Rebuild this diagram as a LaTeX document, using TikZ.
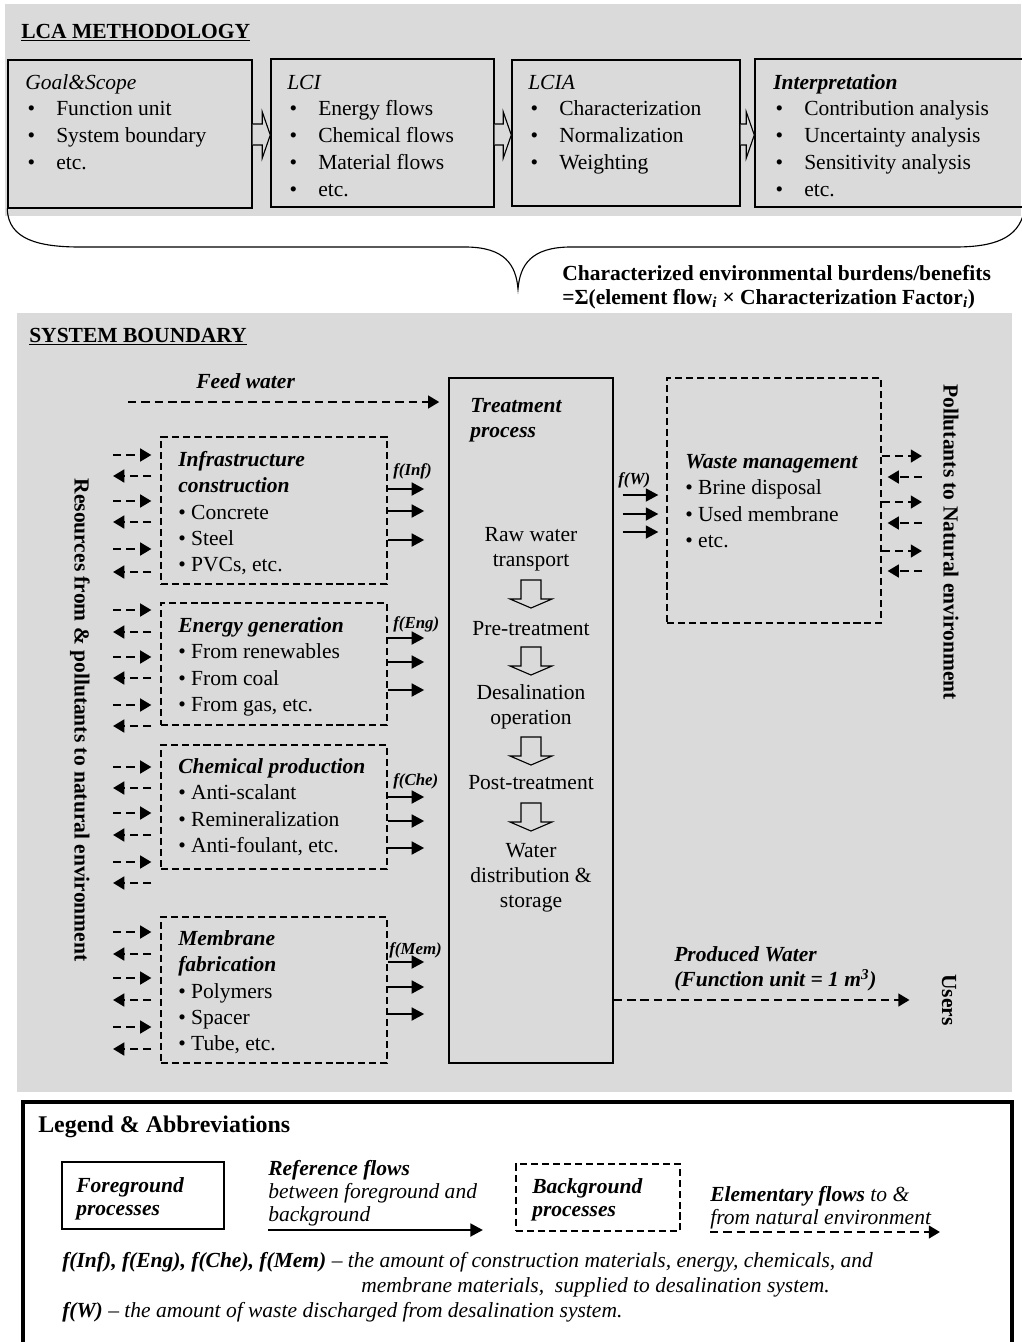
\documentclass[tikz,border=0pt]{standalone}
\usepackage{fontspec}
\setmainfont{Liberation Serif}
\usetikzlibrary{positioning,arrows.meta,fit,calc}

\definecolor{panelgray}{RGB}{218,218,218}

\newcommand{\bodyfont}{\fontsize{15.3}{19.1}\selectfont}
\newcommand{\topitem}[1]{\makebox[0.775cm][l]{\hspace{0.06cm}\textbullet}#1}

\tikzset{
  fgbox/.style={draw, line width=1pt, inner sep=0pt},
  bgbox/.style={draw, line width=0.8pt, dash pattern=on 5pt off 2.8pt, inner sep=0pt},
  lab/.style={anchor=base west, inner sep=0pt, font=\bodyfont},
  labbi/.style={lab, font=\bodyfont\bfseries\itshape},
  heading/.style={lab, font=\bodyfont\bfseries},
  toptxt/.style={anchor=north west, align=left, inner sep=0pt, font=\bodyfont},
  lowtxt/.style={anchor=north west, align=left, inner sep=0pt, font=\fontsize{15.3}{18.65}\selectfont},
  steptxt/.style={anchor=north, align=center, inner sep=0pt, font=\fontsize{15.3}{17.8}\selectfont},
  legtxt/.style={anchor=north west, align=left, inner sep=0pt, font=\fontsize{15.3}{16.5}\selectfont\itshape},
  flab/.style={anchor=base west, inner sep=0pt, font=\fontsize{12}{14}\selectfont\bfseries\itshape},
  sidelab/.style={rotate=-90, inner sep=0pt, font=\bodyfont\bfseries},
  refflow/.style={line width=2pt, -{Triangle[length=9pt,width=9pt]}},
  elemflow/.style={line width=1.8pt, dash pattern=on 6pt off 3.5pt, -{Triangle[length=8pt,width=9pt]}},
  hollow/.style={draw, line width=0.8pt, fill=panelgray},
}

\begin{document}
\begin{tikzpicture}[x=0.025cm, y=-0.025cm]
\useasboundingbox (0,0) rectangle (1021,1342);

% gray panels
\fill[panelgray] (5,4) rectangle (1021,216);
\fill[panelgray] (17,313) rectangle (1012,1092);

% LCA methodology
\node[heading] (lcatitle) at (21,38) {\underline{LCA METHODOLOGY}};
\node[fgbox, fit={(8,60) (252,208)}] (goal) {};
\node[fgbox, fit={(271,59) (494,207)}] (lci) {};
\node[fgbox, fit={(512,60) (740,206)}] (lcia) {};
\node[fgbox, fit={(755,59) (1024,207)}] (interp) {};

\node[toptxt] (goaltxt) at (25,70) {\strut\textit{Goal\&Scope}\\\topitem{Function unit}\\\topitem{System boundary}\\\topitem{etc.}};
\node[toptxt] (lcitxt) at (287,70) {\strut\textit{LCI}\\\topitem{Energy flows}\\\topitem{Chemical flows}\\\topitem{Material flows}\\\topitem{etc.}};
\node[toptxt] (lciatxt) at (528,70) {\strut\textit{LCIA}\\\topitem{Characterization}\\\topitem{Normalization}\\\topitem{Weighting}};
\node[toptxt] (interptxt) at (773,70) {\strut\textbf{\textit{Interpretation}}\\\topitem{Contribution analysis}\\\topitem{Uncertainty analysis}\\\topitem{Sensitivity analysis}\\\topitem{etc.}};

\foreach \a/\bx in {goal/lci, lci/lcia, lcia/interp}
  \draw[hollow] (\a.east |- 0,124) -- ($(\bx.west |- 0,124)+(-8,0)$) -- ++(0,-12) -- (\bx.west |- 0,135)
    -- ++(-8,23) -- ++(0,-13) -- (\a.east |- 0,145);

% brace
\draw[line width=0.8pt] (goal.south west) .. controls (8,240) and (40,247) .. (80,247) -- (465,247)
  .. controls (505,247) and (516,265) .. (518,289) .. controls (520,265) and (531,247) .. (571,247)
  -- (955,247) .. controls (995,247) and (1018,238) .. (1024,212);

\node[heading] (charline) at (562,280) {Characterized environmental burdens/benefits};
\node[heading] (sumline) at (562,304) {=Σ(element flow\textsubscript{\itshape i} × Characterization Factor\textsubscript{\itshape i})};

% system boundary
\node[heading] (systitle) at (29,342) {\underline{SYSTEM BOUNDARY}};
\node[fgbox, fit={(449,378) (613,1063)}] (treat) {};
\node[bgbox, fit={(667,378) (881,623)}] (waste) {};
\node[bgbox, fit={(161,437) (387,584)}] (infra) {};
\node[bgbox, fit={(161,603) (387,725)}] (energy) {};
\node[bgbox, fit={(161,745) (387,869)}] (chem) {};
\node[bgbox, fit={(161,917) (387,1063)}] (memb) {};

\node[steptxt, anchor=north west, align=left, font=\fontsize{15.3}{17.8}\selectfont\bfseries\itshape] (treattitle) at (470,395) {\strut Treatment\\process};
\node[steptxt] (rawtxt) at (treat.center |- 0,524) {\strut Raw water\\transport};
\node[steptxt] (pretxt) at (treat.center |- 0,618) {\strut Pre-treatment};
\node[steptxt] (desaltxt) at (treat.center |- 0,682) {\strut Desalination\\operation};
\node[steptxt] (posttxt) at (treat.center |- 0,772) {\strut Post-treatment};
\node[steptxt] (distrtxt) at (treat.center |- 0,840) {\strut Water\\distribution \&\\storage};
\foreach \t in {580,647,737,803}
  \draw[hollow] ($(treat.center |- 0,\t)+(-10,0)$) -- ++(20,0) -- ++(0,19) -- ++(11,0) -- ++(-21,9) -- ++(-21,-9) -- ++(11,0) -- cycle;

\node[lowtxt] (wastetxt) at (685,450) {\strut\textbf{\textit{Waste management}}\\\textbullet\ Brine disposal\\\textbullet\ Used membrane\\\textbullet\ etc.};
\node[lowtxt] (infratxt) at (178,448) {\strut\textbf{\textit{Infrastructure}}\\\textbf{\textit{construction}}\\\textbullet\ Concrete\\\textbullet\ Steel\\\textbullet\ PVCs, etc.};
\node[lowtxt] (energytxt) at (178,614) {\strut\textbf{\textit{Energy generation}}\\\textbullet\ From renewables\\\textbullet\ From coal\\\textbullet\ From gas, etc.};
\node[lowtxt] (chemtxt) at (178,755) {\strut\textbf{\textit{Chemical production}}\\\textbullet\ Anti-scalant\\\textbullet\ Remineralization\\\textbullet\ Anti-foulant, etc.};
\node[lowtxt] (membtxt) at (178,927) {\strut\textbf{\textit{Membrane}}\\\textbf{\textit{fabrication}}\\\textbullet\ Polymers\\\textbullet\ Spacer\\\textbullet\ Tube, etc.};

% reference flows
\foreach \bx/\ya/\yb/\yc in {infra/489/511/540, energy/638/662/690, chem/797/821/848, memb/962/987/1014}
  \foreach \y in {\ya,\yb,\yc}
    \draw[refflow, shorten >=0.6cm] (\bx.east |- 0,\y) -- (treat.west |- 0,\y);
\foreach \y in {495,514,532}
  \draw[refflow, shorten <=0.225cm, shorten >=0.2cm] (treat.east |- 0,\y) -- (waste.west |- 0,\y);
\node[flab] (finf) at (393,475) {f(Inf)};
\node[flab] (feng) at (393,628) {f(Eng)};
\node[flab] (fche) at (393,785) {f(Che)};
\node[flab] (fmem) at (389,954) {f(Mem)};
\node[flab] (fw) at (618,484) {f(W)};

% elementary flows
\coordinate (envL) at (113,0);
\coordinate (envR) at (922,0);
\foreach \bx/\ya/\yb/\yc/\yd/\ye/\yf in {infra/455/476/501/522/549/572, energy/610/632/657/678/705/726, chem/767/788/813/835/862/883, memb/932/954/978/1000/1027/1049} {
  \foreach \y in {\ya,\yc,\ye}
    \draw[elemflow, shorten >=0.225cm] (envL |- 0,\y) -- (\bx.west |- 0,\y);
  \foreach \y in {\yb,\yd,\yf}
    \draw[elemflow, shorten <=0.225cm] (\bx.west |- 0,\y) -- (envL |- 0,\y);
}
\foreach \y in {456,502,551}
  \draw[elemflow] (waste.east |- 0,\y) -- (envR |- 0,\y);
\foreach \y in {477,523,571}
  \draw[elemflow, shorten >=0.15cm] (envR |- 0,\y) -- (waste.east |- 0,\y);

\coordinate (feedin) at (128,402);
\draw[elemflow, shorten >=0.225cm] (feedin) -- (treat.west |- feedin);
\node[labbi] (feedlab) at (196,388) {Feed water};

\node[sidelab] (resenv) at (80,720) {Resources from \& pollutants to natural environment};
\node[sidelab] (polenv) at (951,542) {Pollutants to Natural environment};
\node[sidelab] (users) at (949,1000) {Users};
\draw[elemflow, shorten >=0.8cm] (treat.east |- users.south) -- (users.south);
\node[steptxt, anchor=north west, align=left, font=\fontsize{15.3}{17.8}\selectfont\bfseries\itshape] (prodlab) at (674,944) {\strut Produced Water\\(Function unit = 1 m\textsuperscript{3})};

% legend
\node[draw, line width=2.8pt, inner sep=0pt, fit={(23,1102) (1012,1370)}] (legend) {};
\node[lab, font=\fontsize{17}{20}\selectfont\bfseries] (legtitle) at (38,1132) {Legend \& Abbreviations};
\node[fgbox, fit={(62,1162) (224,1229)}] (fgkey) {};
\node[legtxt, font=\fontsize{15.3}{16.5}\selectfont\bfseries\itshape] (fgkeytxt) at (76,1176) {\strut Foreground\\processes};
\node[legtxt] (refkeytxt) at (268,1159) {\strut\textbf{Reference flows}\\between foreground and\\background};
\coordinate (refkeyA) at (268,1230);
\coordinate (refkeyB) at (483,1230);
\draw[refflow] (refkeyA) -- (refkeyB);
\node[bgbox, fit={(516,1164) (680,1231)}] (bgkey) {};
\node[legtxt, font=\fontsize{15.3}{16.5}\selectfont\bfseries\itshape] (bgkeytxt) at (532,1177) {\strut Background\\processes};
\node[legtxt] (elemkeytxt) at (710,1185) {\strut\textbf{Elementary flows} to \&\\from natural environment};
\coordinate (elemkeyA) at (710,1232);
\coordinate (elemkeyB) at (940,1232);
\draw[elemflow] (elemkeyA) -- (elemkeyB);

\node[lab, font=\bodyfont\itshape] (abbrone) at (62,1267) {\textbf{f(Inf), f(Eng), f(Che), f(Mem)} -- the amount of construction materials, energy, chemicals, and};
\node[lab, font=\bodyfont\itshape] (abbrtwo) at (361,1292) {membrane materials,\ \ supplied to desalination system.};
\node[lab, font=\bodyfont\itshape] (abbrthree) at (62,1317) {\textbf{f(W)} -- the amount of waste discharged from desalination system.};
\end{tikzpicture}
\end{document}
